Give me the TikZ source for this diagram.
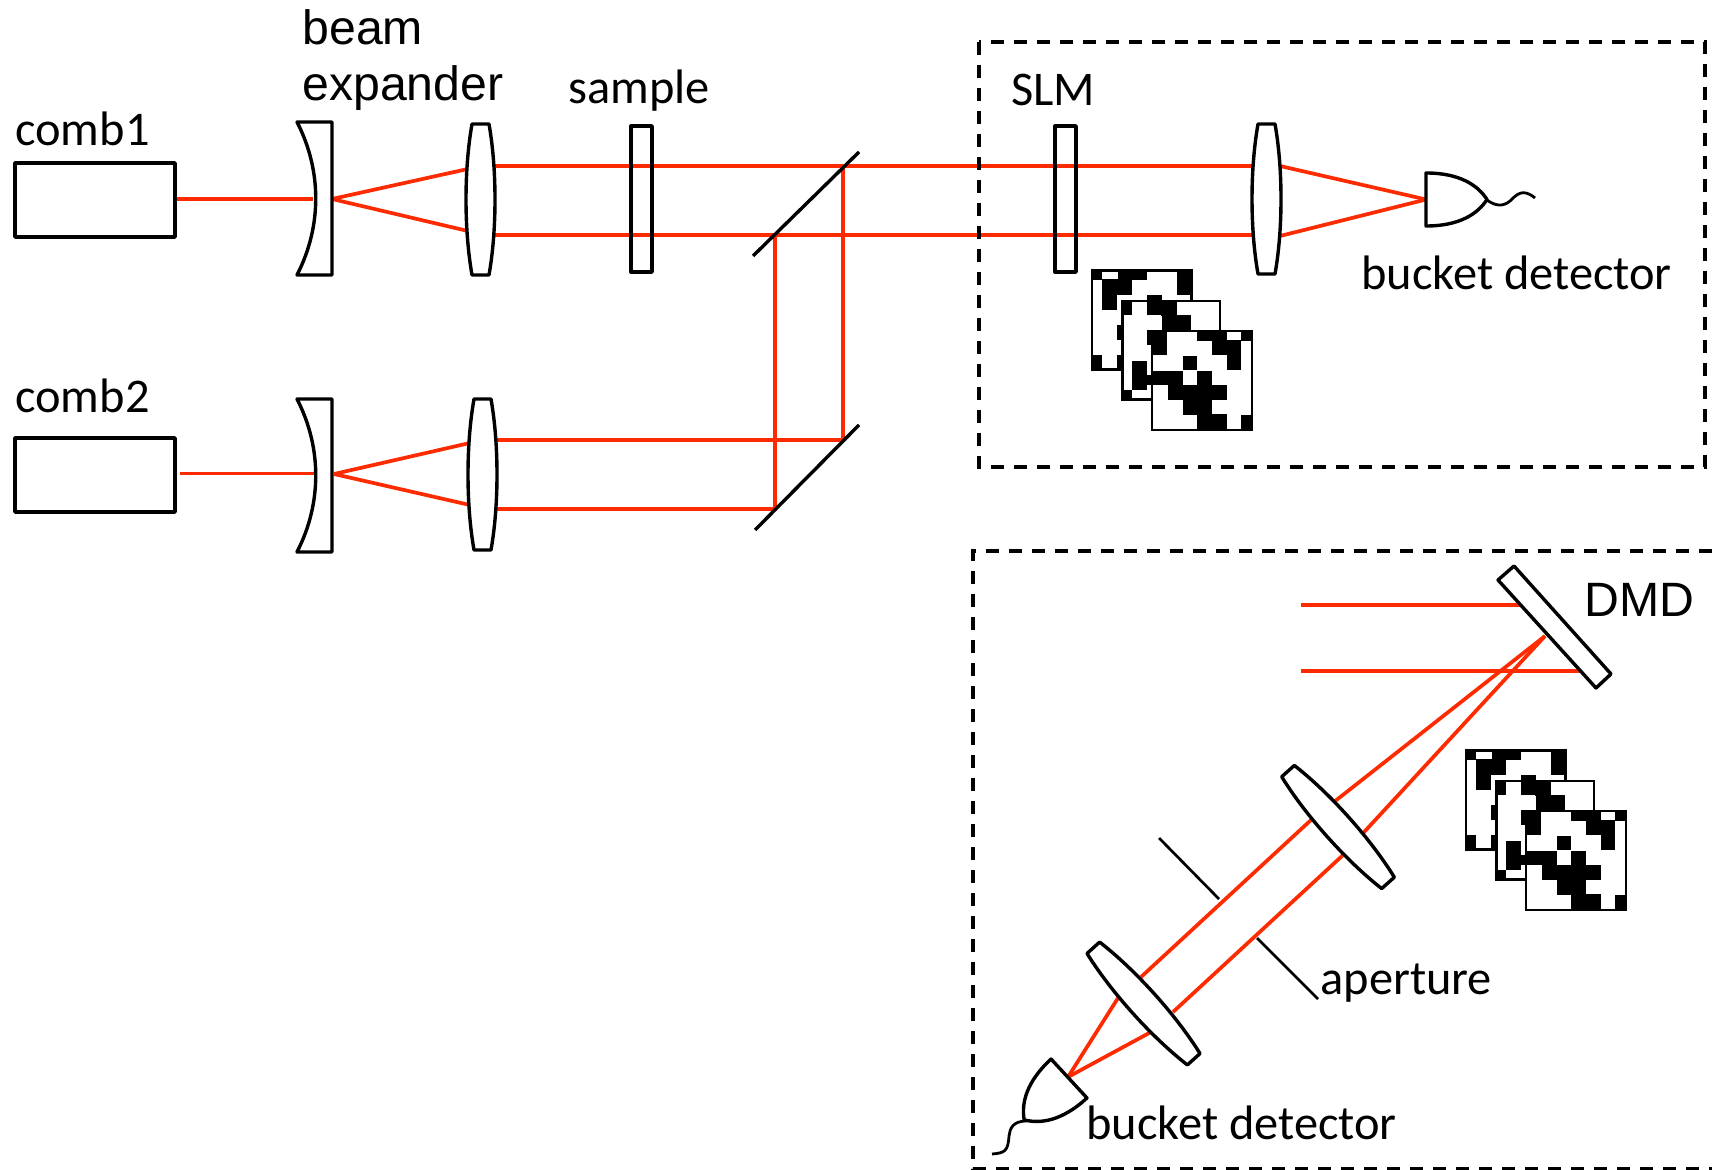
\documentclass[tikz,border=0pt]{standalone}
\usepackage{fontspec}
\setmainfont{Carlito}
\newfontfamily\arialfont{Liberation Sans}
\definecolor{beamred}{RGB}{255,43,0}
\tikzset{
  ray/.style={draw=beamred,line width=1.85pt},
  optic/.style={draw=black,fill=white,line width=1.7pt,line join=round},
  thinoptic/.style={draw=black,line width=1.35pt},
  framebox/.style={draw=black,line width=1.55pt,dash pattern=on 6.5pt off 5pt},
  lab/.style={anchor=base west,inner sep=0pt,yshift=-0.8pt,font=\fontsize{24.2}{28}\selectfont},
  arlab/.style={anchor=base west,inner sep=0pt,yshift=-0.8pt,font=\arialfont\fontsize{24.1}{28}\selectfont},
}
\newcommand{\lensat}[4]{\path[optic,shift={(#1,#2)},rotate=#3] (-8.5,-#4) -- (8.5,-#4)
  .. controls (16.5,-0.4*#4) and (16.5,0.4*#4) .. (8.5,#4) -- (-8.5,#4)
  .. controls (-16.5,0.4*#4) and (-16.5,-0.4*#4) .. (-8.5,-#4) -- cycle;}
\newcommand{\concaveat}[2]{\path[optic,shift={(#1,#2)}] (-35,-76.5) -- (0,-76.5) -- (0,76.5) -- (-35,76.5)
  .. controls (-10,28) and (-10,-28) .. (-35,-76.5) -- cycle;}
\newcommand{\detectorat}[3]{\path[optic,shift={(#1,#2)},rotate=#3] (0,-26.5) .. controls (34,-26.5) and (52,-14) .. (61,0)
  .. controls (52,14) and (34,26.5) .. (0,26.5) -- cycle;}
\newcommand{\patternstack}[2]{%
\begin{scope}[shift={(#1,#2)},x=0.16667pt,y=-0.16667pt]
  \path[draw=black,fill=white,line width=1.3pt] (66,61) rectangle (365,359);
  \fill (63,58) rectangle (97,90);
  \fill (143,58) rectangle (230,90);
  \fill (97,88) rectangle (185,135);
  \fill (97,133) rectangle (141,180);
  \fill (320,58) rectangle (368,135);
  \fill (63,316) rectangle (97,362);
  \fill (141,225) rectangle (155,270);
  \fill (141,316) rectangle (155,362);
  \path[draw=black,fill=white,line width=1.3pt] (158,153) rectangle (450,449);
  \fill (155,150) rectangle (185,195);
  \fill (232,135) rectangle (275,195);
  \fill (273,150) rectangle (320,197);
  \fill (275,195) rectangle (362,242);
  \fill (232,240) rectangle (246,285);
  \fill (187,332) rectangle (232,420);
  \fill (230,376) rectangle (246,405);
  \fill (155,420) rectangle (185,452);
  \path[draw=black,fill=white,line width=1.3pt] (246,243) rectangle (546,540);
  \fill (243,240) rectangle (290,316);
  \fill (382,240) rectangle (470,272);
  \fill (514,240) rectangle (549,272);
  \fill (426,270) rectangle (514,316);
  \fill (470,314) rectangle (514,360);
  \fill (338,318) rectangle (382,360);
  \fill (243,362) rectangle (338,405);
  \fill (382,362) rectangle (426,407);
  \fill (294,405) rectangle (470,450);
  \fill (338,448) rectangle (426,495);
  \fill (382,493) rectangle (470,543);
  \fill (514,495) rectangle (549,543);
\end{scope}}
\begin{document}
\begin{tikzpicture}[x=0.5pt,y=-0.5pt]
\useasboundingbox (0,-1) rectangle (1712,1169);
% named ends
\coordinate (c1out) at (177,198); \coordinate (c1in) at (313,198);
\coordinate (f1) at (332,198);
\coordinate (l1a) at (480,165); \coordinate (l1b) at (480,234);
\coordinate (c2out) at (180,472.5); \coordinate (c2in) at (314,472.5);
\coordinate (f2) at (334,473);
\coordinate (l2a) at (482,439); \coordinate (l2b) at (482,508);
\coordinate (m1a) at (843,165); \coordinate (m1b) at (775,234);
\coordinate (m2a) at (843,439); \coordinate (m2b) at (775,508);
\coordinate (l3a) at (1266,165); \coordinate (l3b) at (1266,234);
\coordinate (f3) at (1426,198.5);
\coordinate (d1) at (1301,604); \coordinate (d1e) at (1530,604);
\coordinate (d2) at (1301,670); \coordinate (d2e) at (1590,670);
\coordinate (fd) at (1545,635);
\coordinate (la1) at (1311,819); \coordinate (la2) at (1342,855);
\coordinate (lb1) at (1141,976); \coordinate (lb2) at (1173,1011);
\coordinate (lb3) at (1118,997); \coordinate (lb4) at (1151,1031);
\coordinate (f4) at (1068,1076);
% rays
\draw[ray] (c1out) -- (c1in);
\draw[ray] (f1) -- (470,167.5);
\draw[ray] (f1) -- (470,230.5);
\draw[ray] (l1a) -- (l3a);
\draw[ray] (l1b) -- (l3b);
\draw[ray] (c2out) -- (c2in);
\draw[ray] (f2) -- (472,441.5);
\draw[ray] (f2) -- (472,504.5);
\draw[ray] (l2a) -- (m2a) -- (m1a);
\draw[ray] (l2b) -- (m2b) -- (m1b);
\draw[ray] (1280,165) -- (f3);
\draw[ray] (1280,235) -- (f3);
\draw[ray] (d1) -- (d1e);
\draw[ray] (d2) -- (d2e);
\draw[ray] (fd) -- (la1);
\draw[ray] (fd) -- (la2);
\draw[ray] (la1) -- (lb1);
\draw[ray] (la2) -- (lb2);
\draw[ray] (lb3) -- (f4);
\draw[ray] (lb4) -- (f4);
% combs
\path[optic,fill=none] (15,162) rectangle (175,236);
\path[optic,fill=none] (15,437) rectangle (175,511);
% beam expander 1, 2
\concaveat{332}{197.5}
\lensat{480.5}{198.5}{0}{75.5}
\concaveat{332}{474.5}
\lensat{482.5}{473.5}{0}{75.5}
% sample, SLM
\path[optic,fill=none] (631,125) rectangle (652,271);
\path[optic,fill=none] (1055,125) rectangle (1076,271);
% beam splitter and mirror
\draw[optic,fill=none] (753,255) -- (859,151);
\draw[optic,fill=none] (755,529) -- (859,424);
\lensat{1266.5}{198}{0}{75}
\detectorat{1426}{198.5}{0}
\draw[thinoptic,line width=1.4pt] (1487,199) .. controls (1495,205) and (1503,206) .. (1510,200)
  .. controls (1517,193) and (1523,187) .. (1535,197);
% boxes
\draw[framebox] (979,41) rectangle (1705,466);
\draw[framebox] (1712,550) -- (973,550) -- (973,1168) -- (1712,1168);
% DMD
\path[optic] (1514,565) -- (1498,579) -- (1596,687) -- (1611,673) -- cycle;
% tilted lenses, apertures, detector
\lensat{1338}{826}{41.8}{75}
\lensat{1143.5}{1002.5}{42}{75}
\draw[thinoptic] (1159,837) -- (1219,898);
\draw[thinoptic] (1257,937) -- (1318,998);
\detectorat{1069}{1077.5}{222.7}
\draw[thinoptic,line width=1.4pt] (1027,1120) .. controls (1012,1120) and (1010,1128) .. (1009,1135)
  .. controls (1008,1150) and (1005,1152) .. (992,1153);
% patterns
\patternstack{1070}{249}
\patternstack{1444}{729}
% labels
\node[lab] (tcomb1) at (15,143) {comb1};
\node[lab] (tcomb2) at (15,410) {comb2};
\node[arlab] (tbeam) at (302,42) {beam};
\node[arlab] (texp) at (302,98) {expander};
\node[lab] (tsample) at (568,101) {sample};
\node[lab] (tslm) at (1011,103) {SLM};
\node[lab] (tbd1) at (1361,287) {bucket detector};
\node[arlab] (tdmd) at (1584,614) {DMD};
\node[lab] (tap) at (1320,992) {aperture};
\node[lab] (tbd2) at (1086,1137) {bucket detector};
\end{tikzpicture}
\end{document}
